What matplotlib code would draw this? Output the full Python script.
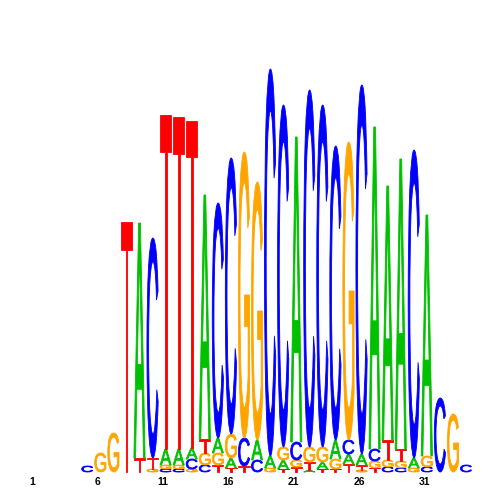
"""Sequence logo, 34 positions
"""
import matplotlib
matplotlib.use('Agg')
import matplotlib.pyplot as plt
import matplotlib.transforms as mtrans
from matplotlib.font_manager import FontProperties
from matplotlib.patches import PathPatch
from matplotlib.textpath import TextPath

positions = list(range(1, 35))
tick_labels = ['1', '6', '11', '16', '21', '26', '31']

# letter heights (bits) per position
A = [0, 0, 0, 0, 0, 0, 0, 0, 1.175, 0,
     0.08, 0.08, 0.055, 1.22, 0.075, 0.05, 0, 0.10, 0.06, 0.045,
     1.525, 0.01, 0.035, 0.095, 0.05, 0.055, 1.61, 1.27, 1.45, 0.05,
     1.205, 0, 0, 0]
C = [0, 0, 0, 0, 0.03, 0, 0, 0, 0, 1.10,
     0.015, 0.015, 0.05, 0.035, 1.175, 1.38, 0.14, 0.06, 1.935, 1.71,
     0.09, 1.785, 1.71, 1.47, 0.07, 1.845, 0.06, 0.025, 0.02, 1.54,
     0.025, 0.37, 0, 0.035]
G = [0, 0, 0, 0, 0, 0.095, 0.195, 0, 0, 0.015,
     0.02, 0.02, 0.015, 0.06, 0.06, 0.12, 1.43, 1.29, 0.02, 0.065,
     0.035, 0.075, 0.075, 0.05, 1.49, 0.01, 0.035, 0.035, 0.035, 0.02,
     0.055, 0, 0.29, 0]
T = [0, 0, 0, 0, 0, 0, 0, 1.25, 0.07, 0.055,
     1.67, 1.66, 1.635, 0.07, 0.035, 0.02, 0.03, 0, 0, 0.015,
     0.025, 0.04, 0.015, 0.015, 0.04, 0.025, 0.02, 0.10, 0.06, 0,
     0, 0, 0, 0]

colors = {'A': '#00c000', 'C': '#0000ff', 'G': '#ffa500', 'T': '#ff0000'}
fp = FontProperties(family='Liberation Sans', weight='normal')


def draw_letter(ax, ch, x, y, w, h):
    tp = TextPath((0, 0), ch, size=1, prop=fp)
    bb = tp.get_extents()
    t = (mtrans.Affine2D().translate(-bb.x0, -bb.y0)
         .scale(w / bb.width, h / bb.height).translate(x - w / 2, y))
    ax.add_patch(PathPatch(t.transform_path(tp), fc=colors[ch],
                           ec=colors[ch], lw=0.6))


fig = plt.figure(figsize=(5, 5), dpi=100)
ax = fig.add_axes([0, 0, 1, 1])

for i, pos in enumerate(positions):
    stack = sorted([('A', A[i]), ('C', C[i]), ('G', G[i]), ('T', T[i])],
                   key=lambda s: s[1])
    y = 0
    for ch, h in stack:
        if h > 0:
            draw_letter(ax, ch, pos, y, 0.86, h)
            y += h

for lab in tick_labels:
    ax.text(int(lab) - 0.2, -0.048, lab, ha='center', va='center',
            fontsize=7.5, fontweight='bold', family='Liberation Sans')

ax.set_xlim(-1.68, 36.6)
ax.set_ylim(-0.14, 2.36)
ax.axis('off')
fig.savefig('out.png', dpi=100)
